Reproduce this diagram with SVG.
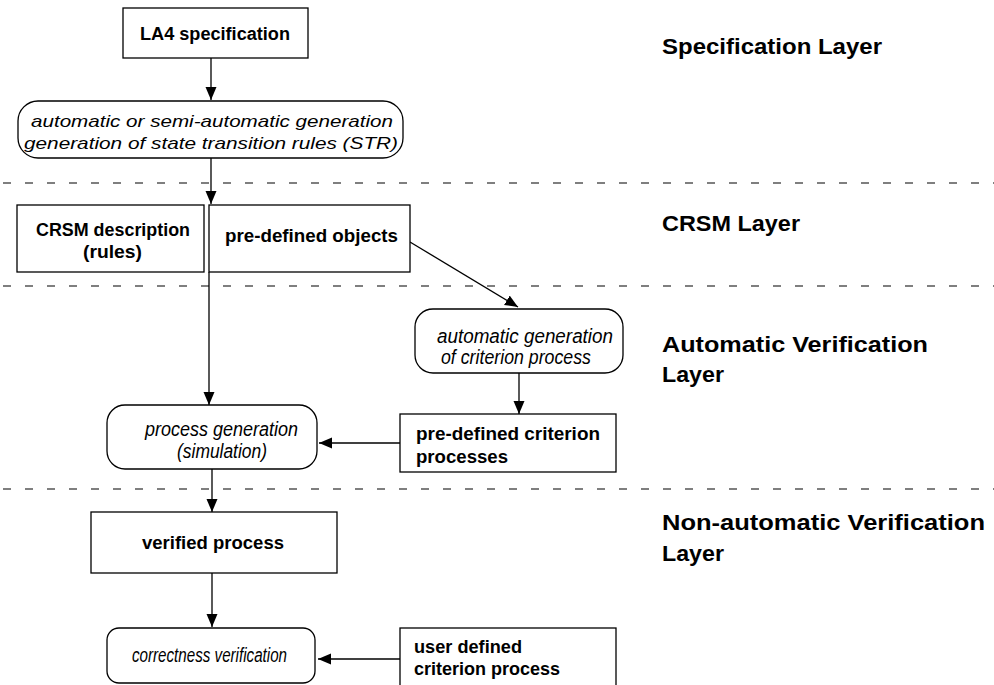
<svg xmlns="http://www.w3.org/2000/svg" width="994" height="685" viewBox="0 0 994 685">
<style>
.box{fill:#fff;stroke:#000;stroke-width:1.3}
.b{font-family:"Liberation Sans",Arial,sans-serif;font-weight:bold;font-size:18px;fill:#000}
.i{font-family:"Liberation Sans",Arial,sans-serif;font-style:italic;font-size:17px;fill:#000}
.n{font-family:"Liberation Sans",Arial,sans-serif;font-style:italic;font-size:20px;fill:#000}
.l{font-family:"Liberation Sans",Arial,sans-serif;font-weight:bold;font-size:22px;fill:#000}
.dash{stroke:#000;stroke-width:1.2;stroke-dasharray:8 14;fill:none}
.c{stroke:#000;stroke-width:1.3;fill:none}
</style>
<defs>
<marker id="ah" markerUnits="userSpaceOnUse" markerWidth="13" markerHeight="12" refX="13" refY="5.5" orient="auto">
<path d="M0,0 L13,5.5 L0,11 Z" fill="#000"/>
</marker>
</defs>
<rect width="994" height="685" fill="#fff"/>
<g id="layers">
<line class="dash" x1="3" y1="183" x2="994" y2="183"/>
<line class="dash" x1="3" y1="286" x2="994" y2="286"/>
<line class="dash" x1="3" y1="489" x2="994" y2="489"/>
<text class="l" x="662" y="54" textLength="220" lengthAdjust="spacingAndGlyphs">Specification Layer</text>
<text class="l" x="662" y="231" textLength="138" lengthAdjust="spacingAndGlyphs">CRSM Layer</text>
<text class="l" x="662" y="352" textLength="266" lengthAdjust="spacingAndGlyphs">Automatic Verification</text>
<text class="l" x="662" y="382" textLength="62" lengthAdjust="spacingAndGlyphs">Layer</text>
<text class="l" x="662" y="530" textLength="323" lengthAdjust="spacingAndGlyphs">Non-automatic Verification</text>
<text class="l" x="662" y="561" textLength="62" lengthAdjust="spacingAndGlyphs">Layer</text>
</g>
<g id="connectors">
<line class="c" x1="211" y1="58" x2="211" y2="100" marker-end="url(#ah)"/>
<line class="c" x1="211" y1="158" x2="211" y2="204" marker-end="url(#ah)"/>
<line class="c" x1="209" y1="272" x2="209" y2="405" marker-end="url(#ah)"/>
<line class="c" x1="410" y1="242" x2="518" y2="307" marker-end="url(#ah)"/>
<line class="c" x1="519" y1="373" x2="519" y2="414" marker-end="url(#ah)"/>
<line class="c" x1="400" y1="443" x2="319" y2="443" marker-end="url(#ah)"/>
<line class="c" x1="212" y1="469" x2="212" y2="512" marker-end="url(#ah)"/>
<line class="c" x1="212" y1="573" x2="212" y2="627" marker-end="url(#ah)"/>
<line class="c" x1="400" y1="659" x2="318" y2="659" marker-end="url(#ah)"/>
</g>
<g id="la4">
<rect class="box" x="123" y="8" width="185" height="50"/>
<text class="b" x="140" y="40" textLength="150" lengthAdjust="spacingAndGlyphs">LA4 specification</text>
</g>
<g id="str">
<rect class="box" x="18" y="101" width="385" height="57" rx="20"/>
<text class="i" x="212" y="127" text-anchor="middle" textLength="362" lengthAdjust="spacingAndGlyphs">automatic or semi-automatic generation</text>
<text class="i" x="211" y="149" text-anchor="middle" textLength="374" lengthAdjust="spacingAndGlyphs">generation of state transition rules (STR)</text>
</g>
<g id="crsm">
<rect class="box" x="17" y="205" width="187" height="67"/>
<text class="b" x="36" y="236" textLength="154" lengthAdjust="spacingAndGlyphs">CRSM description</text>
<text class="b" x="83" y="258" textLength="59" lengthAdjust="spacingAndGlyphs">(rules)</text>
</g>
<g id="predef">
<rect class="box" x="209" y="205" width="201" height="67"/>
<text class="b" x="225" y="242" textLength="173" lengthAdjust="spacingAndGlyphs">pre-defined objects</text>
</g>
<g id="autogen">
<rect class="box" x="415" y="309" width="208" height="64" rx="18"/>
<text class="n" x="437" y="343" textLength="176" lengthAdjust="spacingAndGlyphs">automatic generation</text>
<text class="n" x="441" y="364" textLength="150" lengthAdjust="spacingAndGlyphs">of criterion process</text>
</g>
<g id="predefcrit">
<rect class="box" x="400" y="414" width="216" height="58"/>
<text class="b" x="416" y="440" textLength="184" lengthAdjust="spacingAndGlyphs">pre-defined criterion</text>
<text class="b" x="416" y="463" textLength="92" lengthAdjust="spacingAndGlyphs">processes</text>
</g>
<g id="procgen">
<rect class="box" x="107" y="405" width="210" height="64" rx="18"/>
<text class="n" x="145" y="436" textLength="153" lengthAdjust="spacingAndGlyphs">process generation</text>
<text class="n" x="177" y="458" textLength="90" lengthAdjust="spacingAndGlyphs">(simulation)</text>
</g>
<g id="verified">
<rect class="box" x="91" y="512" width="246" height="61"/>
<text class="b" x="142" y="549" textLength="142" lengthAdjust="spacingAndGlyphs">verified process</text>
</g>
<g id="correct">
<rect class="box" x="107" y="628" width="208" height="55" rx="12"/>
<text class="n" x="132" y="662" textLength="155" lengthAdjust="spacingAndGlyphs">correctness verification</text>
</g>
<g id="userdef">
<rect class="box" x="400" y="628" width="216" height="70"/>
<text class="b" x="414" y="653" textLength="108" lengthAdjust="spacingAndGlyphs">user defined</text>
<text class="b" x="414" y="675" textLength="146" lengthAdjust="spacingAndGlyphs">criterion process</text>
</g>
</svg>
